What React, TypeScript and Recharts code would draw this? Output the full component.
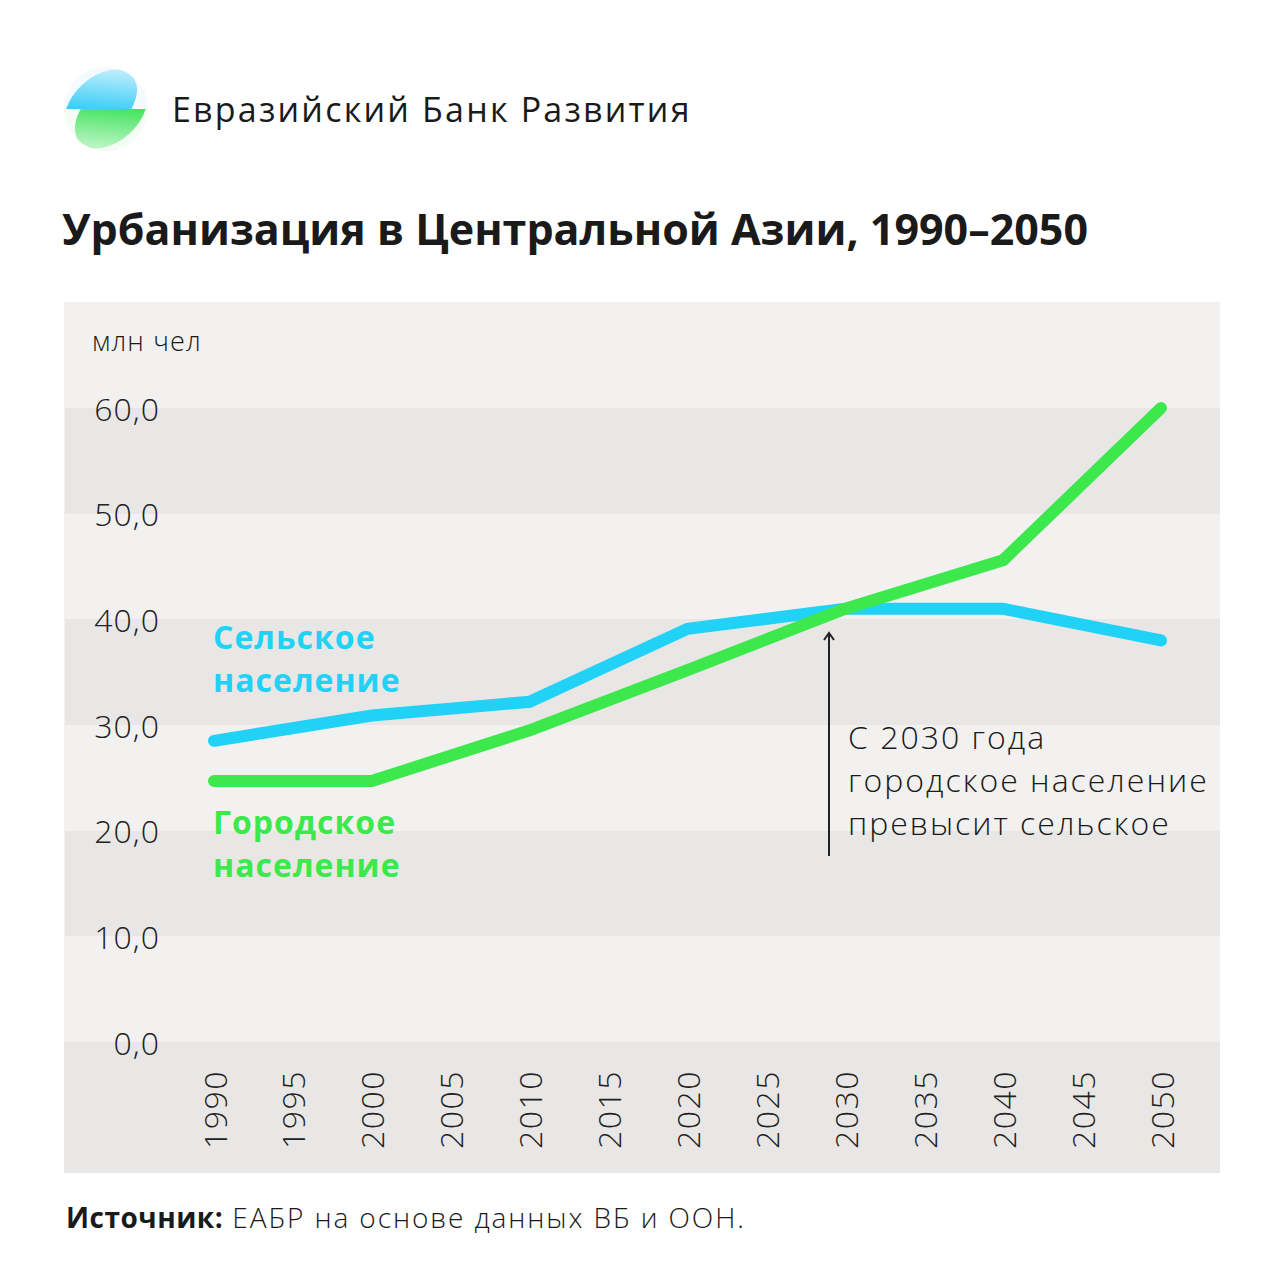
import React from 'react';
import { LineChart, Line, XAxis, YAxis, CartesianGrid } from 'recharts';

// values in million people
const years = [1990, 2000, 2010, 2020, 2030, 2040, 2050];
const rural = [28.5, 30.9, 32.2, 39.1, 41.0, 41.0, 38.0];
const urban = [24.7, 24.7, 29.5, 35.2, 41.0, 45.6, 60.0];
const xTicks = [1990, 1995, 2000, 2005, 2010, 2015, 2020, 2025, 2030, 2035, 2040, 2045, 2050];
const yTicks = [0, 10, 20, 30, 40, 50, 60];

const FONT = '"Open Sans", Lato, sans-serif';
const BLUE = '#22d2f6';
const GREEN = '#3ce84b';
const LIGHT = '#f2f1f0';
const DARK = '#e8e7e6';

const data = years.map((y, i) => ({ year: y, rural: rural[i], urban: urban[i] }));

const YTick = ({ y, payload }: any) => (
  <text x={96} y={y} textAnchor="end" dominantBaseline="central" fontSize={32} fontWeight={300} letterSpacing={1}
    fill="#222" fontFamily={FONT}>
    {payload.value.toFixed(1).replace('.', ',')}
  </text>
);

const XTick = ({ x, y, payload }: any) => (
  <text x={x} y={y + 20} transform={`rotate(-90 ${x} ${y + 20})`} textAnchor="end" dominantBaseline="central"
    fontSize={32} fontWeight={300} letterSpacing={1.5} fill="#222" fontFamily={FONT}>
    {payload.value}
  </text>
);

function Logo() {
  return (
    <svg width={90} height={90} viewBox="0 0 90 90" style={{ position: 'absolute', left: 61, top: 64 }}>
      <defs>
        <clipPath id="circ"><circle cx={45} cy={45} r={42} /></clipPath>
        <clipPath id="top"><rect x={0} y={0} width={90} height={45} /></clipPath>
        <clipPath id="bot"><rect x={0} y={45} width={90} height={45} /></clipPath>
        <linearGradient id="lb" x1="0" y1="0.7" x2="1" y2="0.1">
          <stop offset="0.35" stopColor="#33cbf6" />
          <stop offset="1" stopColor="#dff6fe" />
        </linearGradient>
        <linearGradient id="lg" x1="1" y1="0.3" x2="0" y2="0.9">
          <stop offset="0.35" stopColor="#3ee35a" />
          <stop offset="1" stopColor="#dcf9e0" />
        </linearGradient>
      </defs>
      <g clipPath="url(#circ)">
        <rect x={0} y={0} width={90} height={45} fill="#f4fbfe" />
        <rect x={0} y={45} width={90} height={45} fill="#f3fdf4" />
        <g clipPath="url(#top)">
          <ellipse cx={40} cy={40} rx={42} ry={27} transform="rotate(-42 40 40)" fill="url(#lb)" />
        </g>
        <g clipPath="url(#bot)">
          <ellipse cx={50} cy={50} rx={42} ry={27} transform="rotate(-42 50 50)" fill="url(#lg)" />
        </g>
      </g>
    </svg>
  );
}

export default function App() {
  return (
    <div style={{ position: 'relative', width: 1280, height: 1280, background: '#fff', fontFamily: FONT, color: '#1a1a1a' }}>
      <style>{'body{margin:0}'}</style>
      <Logo />
      <div style={{ position: 'absolute', left: 172, top: 86, fontSize: 34, fontWeight: 500, whiteSpace: 'nowrap', letterSpacing: 2.2 }}>
        Евразийский Банк Развития
      </div>
      <div style={{ position: 'absolute', left: 62, top: 199, fontSize: 43, fontWeight: 700, whiteSpace: 'nowrap' }}>
        Урбанизация в Центральной Азии, 1990–2050
      </div>

      <div style={{
        position: 'absolute', left: 64, top: 302, width: 1156, height: 871,
        background: `linear-gradient(${LIGHT} 740px, ${DARK} 740px)`,
      }}>
        <LineChart width={1156} height={871} data={data} margin={{ top: 106, right: 0, left: 0, bottom: 0 }}>
          <CartesianGrid vertical={false} stroke="none" horizontalFill={[DARK, LIGHT]} />
          <XAxis dataKey="year" type="number" domain={[1990, 2050]} ticks={xTicks} padding={{ left: 149, right: 59 }}
            height={131} axisLine={false} tickLine={false} tick={<XTick />} interval={0} />
          <YAxis domain={[0, 60]} ticks={yTicks} width={1} axisLine={false} tickLine={false} tick={<YTick />} interval={0} />
          <Line dataKey="rural" stroke={BLUE} strokeWidth={12} strokeLinecap="round" dot={false} isAnimationActive={false} />
          <Line dataKey="urban" stroke={GREEN} strokeWidth={12} strokeLinecap="round" dot={false} isAnimationActive={false} />
        </LineChart>

        <div style={{ position: 'absolute', left: 28, top: 20, fontSize: 27, fontWeight: 300, letterSpacing: 1.2 }}>млн чел</div>
        <div style={{ position: 'absolute', left: 149, top: 313, fontSize: 32, fontWeight: 700, color: BLUE, lineHeight: '43px', letterSpacing: 1 }}>
          Сельское<br />население
        </div>
        <div style={{ position: 'absolute', left: 149, top: 498, fontSize: 32, fontWeight: 700, color: GREEN, lineHeight: '43px', letterSpacing: 1 }}>
          Городское<br />население
        </div>
        <svg width={30} height={240} style={{ position: 'absolute', left: 750, top: 326 }}>
          <line x1={15} y1={6} x2={15} y2={228} stroke="#222" strokeWidth={2} />
          <polyline points="10,12 15,5 20,12" fill="none" stroke="#222" strokeWidth={2} />
        </svg>
        <div style={{ position: 'absolute', left: 784, top: 413, fontSize: 32, fontWeight: 300, lineHeight: '43px', letterSpacing: 2 }}>
          С 2030 года<br />городское население<br />превысит сельское
        </div>
      </div>

      <div style={{ position: 'absolute', left: 66, top: 1198, fontSize: 28, fontWeight: 300, whiteSpace: 'nowrap', letterSpacing: 1.9 }}>
        <b style={{ fontWeight: 700, letterSpacing: 0.5 }}>Источник:</b> ЕАБР на основе данных ВБ и ООН.
      </div>
    </div>
  );
}
